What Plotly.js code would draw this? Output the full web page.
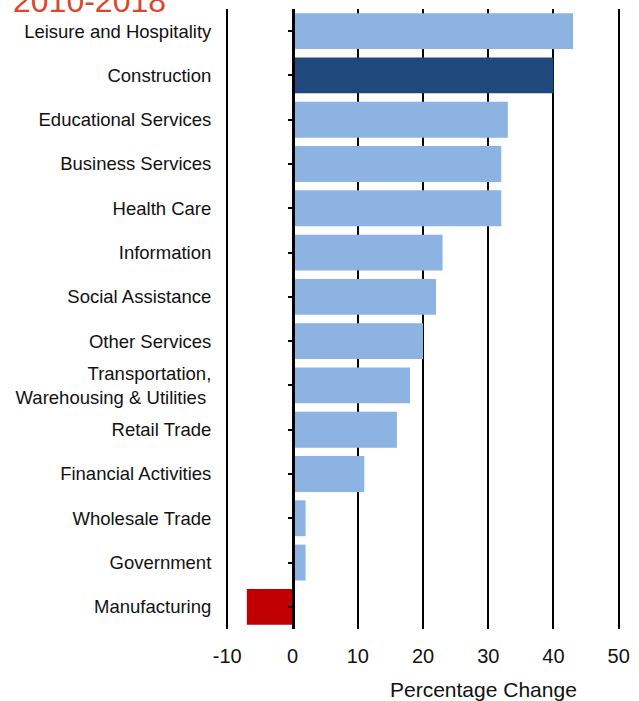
<!DOCTYPE html>
<html>
<head>
<meta charset="utf-8">
<script src="https://cdn.plot.ly/plotly-3.0.1.min.js"></script>
<style>html,body{margin:0;padding:0;background:#fff;}#chart{width:639px;height:701px;}</style>
</head>
<body>
<div id="chart"></div>
<script>
const categories = [
  "Leisure and Hospitality",
  "Construction",
  "Educational Services",
  "Business Services",
  "Health Care",
  "Information",
  "Social Assistance",
  "Other Services",
  "Transportation,<br>Warehousing & Utilities\u00a0",
  "Retail Trade",
  "Financial Activities",
  "Wholesale Trade",
  "Government",
  "Manufacturing"
];
const changes = [43, 40, 33, 32, 32, 23, 22, 20, 18, 16, 11, 2, 2, -7];
const barColors = ["#8DB3E2", "#1F497D", "#8DB3E2", "#8DB3E2", "#8DB3E2", "#8DB3E2", "#8DB3E2",
  "#8DB3E2", "#8DB3E2", "#8DB3E2", "#8DB3E2", "#8DB3E2", "#8DB3E2", "#C00000"];
const xTicks = [-10, 0, 10, 20, 30, 40, 50];
const chartTitle = "2010-2018";
const xTitle = "Percentage Change";

const font = "Arial, 'Liberation Sans', sans-serif";

const traces = [
  {
    type: "bar", orientation: "h",
    x: changes, y: categories,
    marker: {color: barColors, line: {width: 0}},
    hoverinfo: "x+y", showlegend: false
  },
  {
    type: "bar", orientation: "h",
    x: changes, y: categories, yaxis: "y2",
    marker: {color: "rgba(0,0,0,0)", line: {width: 0}},
    hoverinfo: "skip", showlegend: false
  }
];

const yCommon = {
  type: "category",
  categoryorder: "array",
  categoryarray: categories,
  range: [categories.length - 0.5, -0.5],
  showgrid: false,
  zeroline: false
};

const xMin = -10.5, xMax = 50.5;

const layout = {
  width: 639, height: 701,
  margin: {l: 224, r: 17, t: 9, b: 72},
  paper_bgcolor: "#ffffff",
  plot_bgcolor: "#ffffff",
  bargap: 0.19,
  font: {family: font, color: "#111111"},
  xaxis: {
    range: [xMin, xMax],
    tickvals: xTicks,
    ticktext: xTicks.map(String),
    showgrid: true, gridcolor: "#000000", gridwidth: 2,
    zeroline: false, showline: false,
    ticks: "outside", ticklen: 9, tickcolor: "rgba(0,0,0,0)",
    tickfont: {size: 20, family: font, color: "#111111"},
    fixedrange: true
  },
  yaxis: Object.assign({}, yCommon, {
    showline: false,
    ticks: "outside", ticklen: 8, tickcolor: "rgba(0,0,0,0)",
    tickfont: {size: 18.5, family: font, color: "#111111"}
  }),
  yaxis2: Object.assign({}, yCommon, {
    overlaying: "y", anchor: "free", position: (0 - xMin) / (xMax - xMin), side: "left",
    showline: true, linecolor: "#000000", linewidth: 3,
    ticks: "outside", ticklen: 4, tickwidth: 2, tickcolor: "#000000",
    showticklabels: false
  }),
  annotations: [
    {
      text: chartTitle, xref: "paper", yref: "paper",
      x: -0.535, y: 0.981, xanchor: "left", yanchor: "bottom",
      showarrow: false,
      font: {size: 32, family: font, color: "#D9472F"}
    },
    {
      text: xTitle, xref: "paper", yref: "paper",
      x: 0.653, y: -0.0968, xanchor: "center", yanchor: "middle",
      showarrow: false,
      font: {size: 21, family: font, color: "#111111"}
    }
  ]
};

Plotly.newPlot("chart", traces, layout, {displayModeBar: false, staticPlot: true});
</script>
</body>
</html>
